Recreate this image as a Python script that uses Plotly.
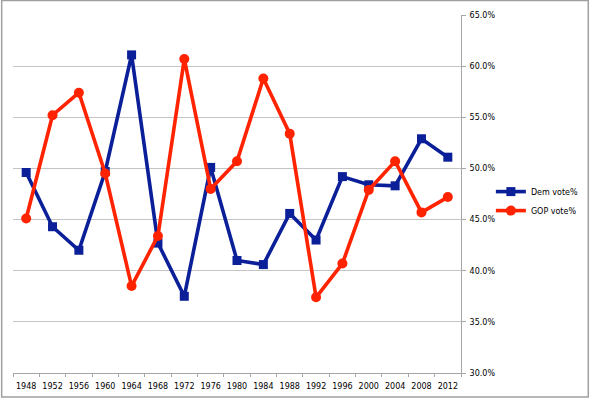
import plotly.graph_objects as go

years = ["1948", "1952", "1956", "1960", "1964", "1968", "1972", "1976", "1980",
         "1984", "1988", "1992", "1996", "2000", "2004", "2008", "2012"]
dem_vote = [49.6, 44.3, 42.0, 49.7, 61.1, 42.7, 37.5, 50.1, 41.0,
            40.6, 45.6, 43.0, 49.2, 48.4, 48.3, 52.9, 51.1]
gop_vote = [45.1, 55.2, 57.4, 49.5, 38.5, 43.4, 60.7, 48.0, 50.7,
            58.8, 53.4, 37.4, 40.7, 47.9, 50.7, 45.7, 47.2]
y_ticks = [30, 35, 40, 45, 50, 55, 60, 65]

DEM = "#0a1f98"
GOP = "#ff2300"
FONT = "DejaVu Sans"

fig = go.Figure()
fig.add_trace(go.Scatter(
    x=years, y=dem_vote, name="Dem vote%", mode="lines+markers",
    line=dict(color=DEM, width=3.6),
    marker=dict(symbol="square", size=9, color=DEM),
    legendgroup="dem",
))
fig.add_trace(go.Scatter(
    x=years, y=gop_vote, name="GOP vote%", mode="lines+markers",
    line=dict(color=GOP, width=3.6),
    marker=dict(symbol="circle", size=10, color=GOP),
    legendgroup="gop",
))

fig.update_layout(
    width=590, height=399,
    margin=dict(l=13, r=129, t=15, b=26, autoexpand=False),
    paper_bgcolor="white", plot_bgcolor="white",
    font=dict(family=FONT, size=8, color="black"),
    showlegend=True,
    legend=dict(
        xref="container", yref="container",
        x=0.832, xanchor="left", y=0.496, yanchor="middle",
        font=dict(family=FONT, size=8, color="black"),
        tracegroupgap=0, itemwidth=30,
        bgcolor="rgba(0,0,0,0)",
    ),
    xaxis=dict(
        type="category", tickson="boundaries", ticks="outside", ticklen=3,
        tickangle=0, automargin=False, ticklabelstandoff=5,
        tickcolor="#a6a6a6", showline=True, linecolor="#a6a6a6", linewidth=1,
        showgrid=False, tickfont=dict(family=FONT, size=8, color="black"),
        range=[-0.5, len(years) - 0.5],
    ),
    yaxis=dict(
        side="right", range=[30, 65], tickvals=y_ticks, automargin=False,
        ticktext=[f"{v:.1f}%" for v in y_ticks], ticklabelstandoff=2,
        showgrid=True, gridcolor="#c4c4c4", gridwidth=1.3,
        showline=True, linecolor="#a6a6a6", linewidth=1,
        ticks="outside", ticklen=4, tickcolor="#a6a6a6",
        tickfont=dict(family=FONT, size=8, color="black"),
        zeroline=False,
    ),
    shapes=[dict(
        type="rect", xref="paper", yref="paper",
        x0=-11.3 / 447, x1=574 / 447, y0=-24 / 358, y1=1 + 14.5 / 358,
        line=dict(color="#a0a0a0", width=1.5), layer="below",
    )],
)

fig.write_html("out.html", config={"displayModeBar": False},
               post_script="document.body.style.margin='0';")
